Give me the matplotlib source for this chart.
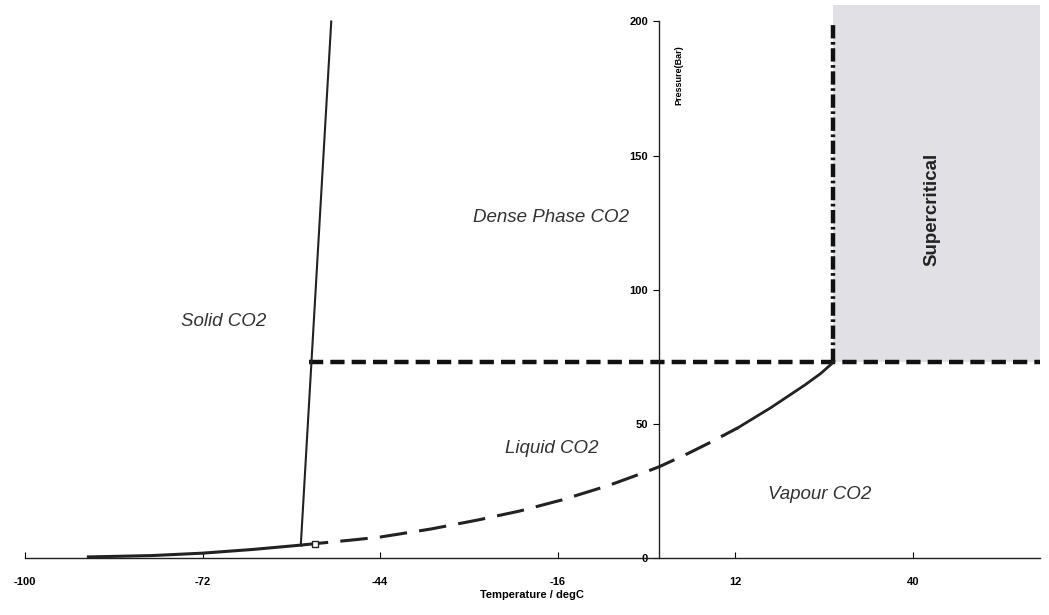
import matplotlib
matplotlib.use("Agg")
import matplotlib.pyplot as plt

plt.rcParams['font.family'] = ['Liberation Sans', 'DejaVu Sans']

# CO2 saturation curve (sublimation + vapour pressure), degC vs bar
curve_t = [-90, -80, -72, -64, -56.5, -54, -48, -44, -36, -28.5, -22, -15.4, -8, -2.2, 0,
           4.6, 8, 12.4, 17.6, 23, 25.5, 27.5]
curve_p = [0.4, 0.9, 1.8, 3.2, 4.8, 5.4, 6.8, 7.8, 10.8, 14.2, 17.5, 21.6, 27.0, 32.0, 34.0,
           39.0, 43.0, 48.5, 56.0, 64.5, 68.8, 73.0]

# melting line
melt_t = [-56.5, -51.7]
melt_p = [4.8, 200]

triple_t, triple_p = -54.3, 5.3
crit_t, crit_p = 27.5, 73.0

xticks = [-100, -72, -44, -16, 12, 40]
yticks = [0, 50, 100, 150, 200]

regions = ['Solid CO2', 'Dense Phase CO2', 'Liquid CO2', 'Vapour CO2']
region_t = [-68.7, -17.1, -17.0, 25.3]
region_p = [88, 127, 41, 23.5]

fig = plt.figure(figsize=(10.49, 6.15), dpi=100)
ax = fig.add_axes([0.0238, 0.0927, 0.9672, 0.9073])
ax.set_xlim(-100, 60)
ax.set_ylim(0, 208)

# supercritical region
ax.fill_between([crit_t, 60], crit_p, 206, color='#e1e1e5', lw=0, zorder=0)

# saturation curve: solid below triple point, dashed liquid line, solid near critical point
i_tp = curve_t.index(-56.5)
i_sol = curve_t.index(12.4)
ax.plot(curve_t[:i_tp + 1], curve_p[:i_tp + 1], color='#222222', lw=2.2, zorder=3)
ax.plot(curve_t[i_tp:i_sol + 1], curve_p[i_tp:i_sol + 1], color='#222222', lw=2.2,
        dashes=(9, 4), zorder=3)
ax.plot(curve_t[i_sol:], curve_p[i_sol:], color='#222222', lw=2.0, zorder=3)

ax.plot(melt_t, melt_p, color='#222222', lw=1.5, zorder=3)
ax.plot([triple_t], [triple_p], marker='s', ms=5, mfc='white', mec='#222222', mew=1, zorder=4)

# critical pressure / temperature boundaries
ax.plot([-55.2, 60], [crit_p, crit_p], color='#111111', lw=3.2, dashes=(3.2, 1.6), zorder=2)
ax.plot([crit_t, crit_t], [crit_p, 198.5], color='#111111', lw=3.2,
        dashes=(3.0, 0.8, 0.6, 0.8), zorder=2)

for name, t, p in zip(regions, region_t, region_p):
    ax.text(t, p, name, fontsize=13.5, style='italic', color='#333333', ha='center', va='center')
ax.text(43, 130, 'Supercritical', fontsize=13.5, fontweight='bold', color='#222222',
        rotation=90, ha='center', va='center')
ax.text(3.1, 180, 'Pressure(Bar)', fontsize=6.5, fontweight='bold', rotation=90,
        ha='center', va='center')

# axes through the origin
for s in ['top', 'right']:
    ax.spines[s].set_visible(False)
ax.spines['left'].set_position(('data', 0))
ax.spines['left'].set_bounds(0, 200)
ax.spines['bottom'].set_bounds(-100, 60)
for s in ['left', 'bottom']:
    ax.spines[s].set_linewidth(1.0)
    ax.spines[s].set_color('#222222')

ax.set_xticks(xticks)
ax.set_xticklabels([str(v) for v in xticks], fontsize=8, fontweight='bold')
ax.set_yticks(yticks)
ax.set_yticklabels([str(v) for v in yticks], fontsize=8, fontweight='bold')
ax.tick_params(axis='x', direction='in', length=4, pad=14)
ax.tick_params(axis='y', direction='out', length=4, pad=4)
ax.set_xlabel('Temperature / degC', fontsize=8, fontweight='bold', labelpad=2)

fig.savefig('out.png', dpi=100)
